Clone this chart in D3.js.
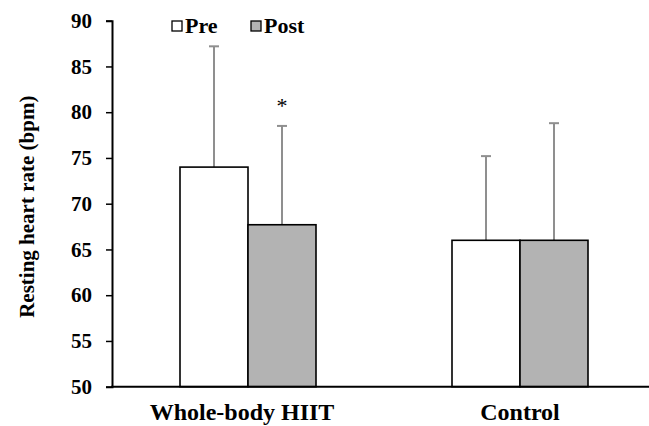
<!DOCTYPE html>
<html>
<head>
<meta charset="utf-8">
<script src="https://cdn.jsdelivr.net/npm/d3@7"></script>
<style>
  body { margin: 0; background: #fff; }
  text { font-family: "Liberation Serif", "Times New Roman", serif; font-weight: bold; }
</style>
</head>
<body>
<div class="chart"></div>
<script>
const width = 649
const height = 426

// data
const groups = ["Whole-body HIIT", "Control"]
const series = ["Pre", "Post"]
const preMeans = [74.0, 66.0]
const postMeans = [67.7, 66.0]
const preSD = [13.2, 9.2]
const postSD = [10.8, 12.8]
const yTicks = [50, 55, 60, 65, 70, 75, 80, 85, 90]
const fills = { Pre: "#ffffff", Post: "#b3b3b3" }

const bars = []
groups.forEach((g, i) => {
    bars.push({ group: g, key: "Pre", mean: preMeans[i], sd: preSD[i] })
    bars.push({ group: g, key: "Post", mean: postMeans[i], sd: postSD[i] })
})

const svg = d3.select('.chart')
    .append('svg')
    .attr('width', width)
    .attr('height', height)

const x0 = d3.scaleBand().domain(groups).range([112, 656])
const x1 = d3.scaleBand().domain(series).range([0, 136])
const y = d3.scaleLinear().domain([50, 90]).range([386.7, 20.7])

const barX = d => x0(d.group) + x0.bandwidth() / 2 - 68 + x1(d.key)

// error bars (upper only), drawn under the bars
const err = svg.append("g")
    .attr("stroke", "#8f8f8f")
    .attr("stroke-width", 2)
err.selectAll("line.v")
    .data(bars)
    .join("line")
    .attr("class", "v")
    .attr("x1", d => barX(d) + x1.bandwidth() / 2)
    .attr("x2", d => barX(d) + x1.bandwidth() / 2)
    .attr("y1", d => y(d.mean))
    .attr("y2", d => y(d.mean + d.sd))
err.selectAll("line.cap")
    .data(bars)
    .join("line")
    .attr("class", "cap")
    .attr("x1", d => barX(d) + x1.bandwidth() / 2 - 5)
    .attr("x2", d => barX(d) + x1.bandwidth() / 2 + 5)
    .attr("y1", d => y(d.mean + d.sd))
    .attr("y2", d => y(d.mean + d.sd))

// bars
svg.append("g")
    .selectAll("rect")
    .data(bars)
    .join("rect")
    .attr("x", barX)
    .attr("y", d => y(d.mean))
    .attr("width", x1.bandwidth())
    .attr("height", d => y(50) - y(d.mean))
    .attr("fill", d => fills[d.key])
    .attr("stroke", "#000")
    .attr("stroke-width", 1.6)

// significance marker
svg.append("text")
    .attr("x", barX(bars[1]) + x1.bandwidth() / 2)
    .attr("y", y(bars[1].mean + bars[1].sd) - 13)
    .attr("text-anchor", "middle")
    .attr("font-size", "22px")
    .style("font-weight", "normal")
    .text("*")

// y axis
const yAxis = svg.append("g")
    .attr("transform", "translate(112,0)")
    .call(d3.axisLeft(y).tickValues(yTicks).tickSize(6).tickPadding(14))
yAxis.select(".domain").attr("stroke-width", 2)
yAxis.selectAll(".tick line").attr("stroke-width", 1.5)
yAxis.selectAll(".tick text")
    .attr("font-size", "21px")
    .attr("fill", "#000")
    .style("font-family", '"Liberation Serif", serif')

// x axis line
svg.append("line")
    .attr("x1", 111).attr("x2", 649)
    .attr("y1", y(50)).attr("y2", y(50))
    .attr("stroke", "#000")
    .attr("stroke-width", 2)

// group labels (first one sits a little left of its bars)
const labelShift = [-6, 0]
svg.append("g")
    .selectAll("text")
    .data(groups)
    .join("text")
    .attr("x", (d, i) => x0(d) + x0.bandwidth() / 2 + labelShift[i])
    .attr("y", 420)
    .attr("text-anchor", "middle")
    .attr("font-size", "24px")
    .text(d => d)

// y label
svg.append("text")
    .attr("transform", `translate(34, ${(y(50) + y(90)) / 2 + 3}) rotate(-90)`)
    .attr("text-anchor", "middle")
    .attr("font-size", "21px")
    .text("Resting heart rate (bpm)")

// legend
const legend = svg.append("g")
const legendX = [172, 251]
series.forEach((s, i) => {
    legend.append("rect")
        .attr("x", legendX[i]).attr("y", 21)
        .attr("width", 10).attr("height", 10)
        .attr("fill", fills[s])
        .attr("stroke", "#000")
        .attr("stroke-width", 1.3)
    legend.append("text")
        .attr("x", legendX[i] + 13)
        .attr("y", 33)
        .attr("font-size", "22px")
        .text(s)
})
</script>
</body>
</html>
